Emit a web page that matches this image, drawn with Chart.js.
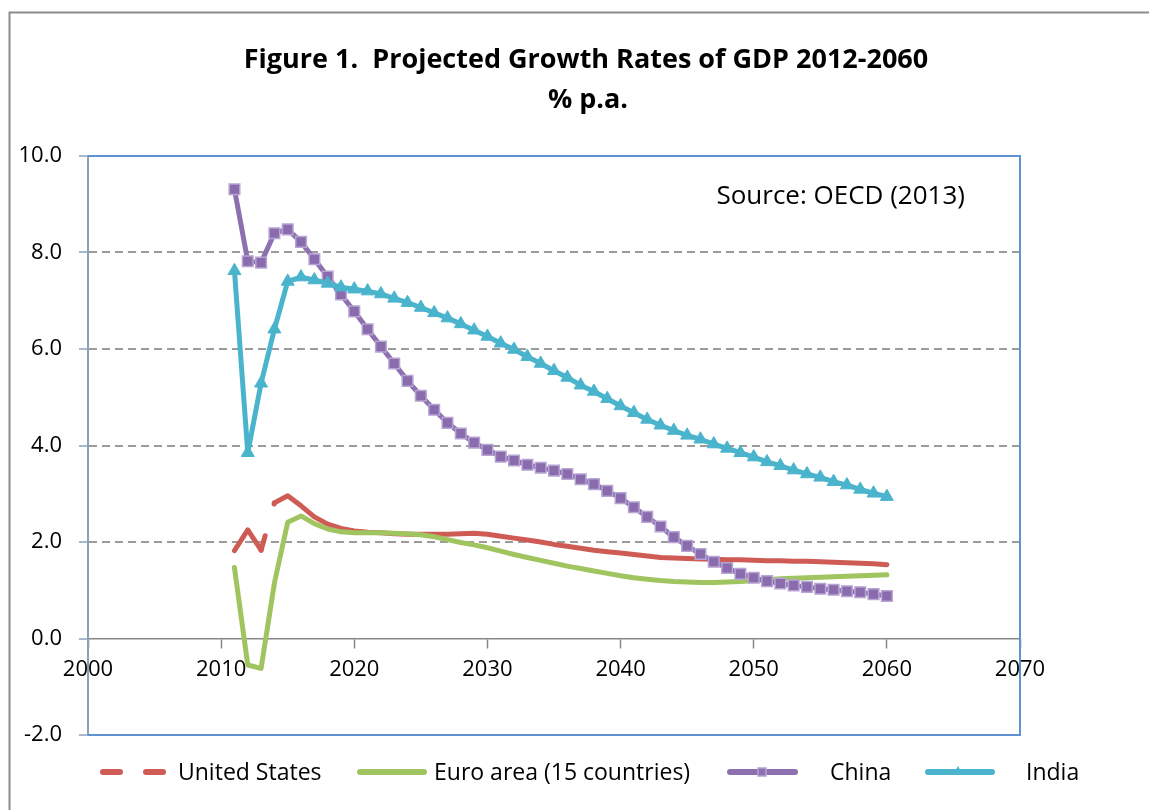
<!DOCTYPE html>
<html><head><meta charset="utf-8">
<script src="https://cdn.jsdelivr.net/npm/chart.js@4.4.0/dist/chart.umd.min.js"></script>
<style>html,body{margin:0;padding:0;background:#fff;overflow:hidden}canvas{display:block}</style>
</head><body>
<canvas id="c" width="1149" height="810"></canvas>
<script>
const years = [2011,2012,2013,2014,2015,2016,2017,2018,2019,2020,
  2021,2022,2023,2024,2025,2026,2027,2028,2029,2030,
  2031,2032,2033,2034,2035,2036,2037,2038,2039,2040,
  2041,2042,2043,2044,2045,2046,2047,2048,2049,2050,
  2051,2052,2053,2054,2055,2056,2057,2058,2059,2060];

const unitedStates = [1.82,2.25,1.83,2.81,2.96,2.75,2.52,2.37,2.28,2.23,
  2.20,2.19,2.17,2.16,2.16,2.16,2.16,2.17,2.18,2.16,
  2.12,2.08,2.04,2.00,1.95,1.91,1.87,1.83,1.80,1.77,
  1.74,1.71,1.68,1.67,1.66,1.65,1.64,1.63,1.63,1.62,
  1.61,1.61,1.60,1.60,1.59,1.58,1.57,1.56,1.55,1.53];

const euroArea = [1.47,-0.55,-0.62,1.15,2.41,2.54,2.38,2.27,2.21,2.19,
  2.19,2.19,2.18,2.17,2.15,2.11,2.05,1.99,1.94,1.88,
  1.81,1.74,1.68,1.62,1.56,1.50,1.45,1.40,1.35,1.30,
  1.26,1.23,1.20,1.18,1.17,1.16,1.16,1.17,1.18,1.20,
  1.22,1.24,1.25,1.26,1.27,1.28,1.29,1.30,1.31,1.32];

const china = [9.31,7.82,7.79,8.40,8.48,8.22,7.86,7.50,7.13,6.78,
  6.41,6.05,5.70,5.34,5.03,4.74,4.47,4.25,4.06,3.91,
  3.77,3.69,3.60,3.54,3.48,3.41,3.30,3.20,3.06,2.91,
  2.72,2.52,2.32,2.10,1.92,1.75,1.59,1.46,1.34,1.26,
  1.19,1.14,1.10,1.07,1.03,1.01,0.98,0.96,0.92,0.88];

const india = [7.62,3.85,5.29,6.41,7.40,7.49,7.43,7.36,7.28,7.24,
  7.20,7.14,7.05,6.96,6.86,6.75,6.64,6.52,6.39,6.26,
  6.12,5.99,5.84,5.70,5.55,5.41,5.25,5.12,4.97,4.82,
  4.68,4.54,4.42,4.31,4.21,4.13,4.03,3.94,3.85,3.76,
  3.66,3.58,3.49,3.41,3.34,3.25,3.18,3.09,3.01,2.94];

const seriesNames = ['United States','Euro area (15 countries)','China','India'];
const xTicks = [2000,2010,2020,2030,2040,2050,2060,2070];
const yTicks = [-2,0,2,4,6,8,10];
const titleLines = ['Figure 1.  Projected Growth Rates of GDP 2012-2060','% p.a.'];
const sourceNote = 'Source: OECD (2013)';

const RED = '#CE5C55', GREEN = '#A0C45F', PURPLE = '#8C70B0', CYAN = '#4BB4CD';
const FONT = '"Open Sans", "DejaVu Sans", sans-serif';

function pts(vals){ return years.map((yr,i)=>({x:yr, y:vals[i]})); }

const decor = {
  id:'decor',
  beforeDatasetsDraw(chart){
    const {ctx, chartArea:a} = chart;
    ctx.save();
    ctx.strokeStyle = '#5E92D2';
    ctx.lineWidth = 2;
    ctx.beginPath();
    ctx.moveTo(a.left, a.top); ctx.lineTo(a.right, a.top);
    ctx.lineTo(a.right, a.bottom); ctx.lineTo(a.left, a.bottom);
    ctx.stroke();
    ctx.restore();
  },
  afterDraw(chart){
    const {ctx} = chart;
    ctx.save();
    // outer frame
    ctx.strokeStyle = '#8C8C8C'; ctx.lineWidth = 2;
    ctx.beginPath(); ctx.moveTo(9.5, 810); ctx.lineTo(9.5, 12.5); ctx.lineTo(1149, 12.5); ctx.stroke();
    // title
    ctx.fillStyle = '#000';
    ctx.textAlign = 'center'; ctx.textBaseline = 'middle';
    ctx.font = 'bold 27px ' + FONT;
    ctx.fillText(titleLines[0], 586, 60);
    ctx.fillText(titleLines[1], 588, 100);
    // source
    ctx.font = '26px ' + FONT;
    ctx.textAlign = 'right';
    ctx.fillText(sourceNote, 965, 197);
    // legend
    const ly = 772;
    ctx.lineCap = 'round'; ctx.lineWidth = 6;
    ctx.strokeStyle = RED;
    ctx.beginPath(); ctx.moveTo(103, ly); ctx.lineTo(120, ly); ctx.moveTo(146, ly); ctx.lineTo(163, ly); ctx.stroke();
    ctx.strokeStyle = GREEN;
    ctx.beginPath(); ctx.moveTo(360, ly); ctx.lineTo(424, ly); ctx.stroke();
    ctx.strokeStyle = PURPLE;
    ctx.beginPath(); ctx.moveTo(730, ly); ctx.lineTo(795, ly); ctx.stroke();
    ctx.fillStyle = PURPLE; ctx.strokeStyle = '#B4A2D2'; ctx.lineWidth = 1.5;
    ctx.fillRect(758, ly-4, 8, 8); ctx.strokeRect(758, ly-4, 8, 8);
    ctx.strokeStyle = CYAN; ctx.lineWidth = 6;
    ctx.beginPath(); ctx.moveTo(928, ly); ctx.lineTo(992, ly); ctx.stroke();
    ctx.fillStyle = CYAN;
    ctx.beginPath(); ctx.moveTo(958, ly-6); ctx.lineTo(963, ly+3); ctx.lineTo(953, ly+3); ctx.closePath(); ctx.fill();
    ctx.fillStyle = '#000'; ctx.textAlign = 'left'; ctx.textBaseline = 'middle';
    ctx.font = '23px ' + FONT;
    ctx.fillText(seriesNames[0], 178, ly+1);
    ctx.fillText(seriesNames[1], 434, ly+1);
    ctx.fillText(seriesNames[2], 830, ly+1);
    ctx.fillText(seriesNames[3], 1026, ly+1);
    ctx.restore();
  }
};

function build(){
  new Chart(document.getElementById('c'), {
    type:'line',
    data:{
      datasets:[
        {label:seriesNames[0], data:pts(unitedStates), borderColor:RED, backgroundColor:RED,
         borderWidth:5, pointRadius:0, tension:0, borderCapStyle:'round', borderJoinStyle:'round', order:3,
         segment:{borderDash: c => c.p0DataIndex === 2 ? [15,33] : undefined}},
        {label:seriesNames[1], data:pts(euroArea), borderColor:GREEN, backgroundColor:GREEN,
         borderWidth:5, pointRadius:0, tension:0, borderCapStyle:'round', borderJoinStyle:'round', order:2},
        {label:seriesNames[2], data:pts(china), borderColor:PURPLE, backgroundColor:PURPLE,
         borderWidth:5, tension:0, borderJoinStyle:'round', order:1,
         pointStyle:'rect', pointRadius:7.5, pointBackgroundColor:'#8A6CAE', pointBorderColor:'#B6A4D3', pointBorderWidth:1.5},
        {label:seriesNames[3], data:pts(india), borderColor:CYAN, backgroundColor:CYAN,
         borderWidth:5, tension:0, borderJoinStyle:'round', order:0,
         pointStyle:'triangle', pointRadius:7.5, pointBackgroundColor:CYAN, pointBorderColor:CYAN, pointBorderWidth:1}
      ]
    },
    options:{
      responsive:false, animation:false, devicePixelRatio:1,
      layout:{padding:{left:10, right:129, top:156, bottom:75}},
      plugins:{legend:{display:false}, title:{display:false}, tooltip:{enabled:false}},
      scales:{
        x:{type:'linear', position:{y:0}, min:xTicks[0], max:xTicks[xTicks.length-1],
           afterBuildTicks: s => { s.ticks = xTicks.map(v=>({value:v})); },
           ticks:{callback: v => String(v), font:{family:FONT, size:22}, color:'#000', padding:9, maxRotation:0, autoSkip:false},
           grid:{drawOnChartArea:false, drawTicks:true, tickLength:9, tickColor:'#878787', tickWidth:1.5},
           border:{display:true, color:'#878787', width:1.5}},
        y:{type:'linear', position:'left', min:yTicks[0], max:yTicks[yTicks.length-1],
           afterBuildTicks: s => { s.ticks = yTicks.map(v=>({value:v})); },
           afterFit: s => { s.width = 78; },
           ticks:{callback: v => Number(v).toFixed(1), font:{family:FONT, size:22}, color:'#000', padding:17},
           grid:{color: c => (c.tick && [2,4,6,8].includes(c.tick.value)) ? '#9B9B9B' : 'rgba(0,0,0,0)',
                 lineWidth:2, tickLength:9, tickColor:'#8DA0B8', tickWidth:1.5, tickBorderDash:[]},
           border:{display:true, color:'#8DA0B8', width:2, dash:[8,5]}}
      }
    },
    plugins:[decor]
  });
}
if (document.fonts && document.fonts.load) {
  Promise.all([document.fonts.load('22px "Open Sans"'), document.fonts.load('bold 27px "Open Sans"')]).then(build, build);
} else build();
</script>
</body></html>
